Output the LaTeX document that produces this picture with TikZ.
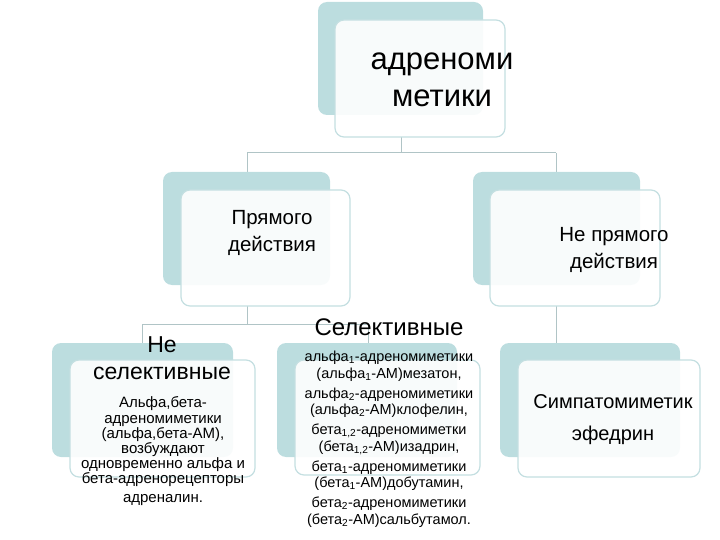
\documentclass[tikz,border=0pt]{standalone}
\usepackage{fontspec}
\setmainfont{Liberation Sans}
\begin{document}
\begin{tikzpicture}[x=1pt,y=-1pt,
 back/.style={fill=backc,draw=none,rounded corners=9pt},
 front/.style={fill=white,fill opacity=0.9,draw=linec,line width=1.2pt,rounded corners=9pt},
 conn/.style={draw=connc,line width=1pt},
 txt/.style={align=center,inner sep=0pt}]
\definecolor{backc}{HTML}{BCDDDF}
\definecolor{linec}{HTML}{C4DFE1}
\definecolor{connc}{HTML}{B0C4C6}
\useasboundingbox (0,0) rectangle (720,540);
% connectors
\coordinate (j1) at (401,153);
\coordinate (j2) at (247,324);
\draw[conn] (401,137) -- (j1) (247,153) -- (556,153) (247,153) -- (247,172) (556,153) -- (556,172);
\draw[conn] (247,306) -- (j2) (142,324) -- (368,324) (142,324) -- (142,343) (368,324) -- (368,343);
\draw[conn] (556,306) -- (556,343);
% top
\fill[back] (318,2) rectangle (483,115);
\draw[front] (335,20) rectangle (505,137);
\node[txt,font=\fontsize{31}{37}\selectfont] (top) at (442,80) {адреноми\\метики};
% mid
\fill[back] (163,172) rectangle (330,285);
\draw[front] (181,190) rectangle (350,306);
\node[txt,font=\fontsize{20.5}{27}\selectfont] (pr) at (272,233) {Прямого\\действия};
\fill[back] (473,172) rectangle (640,285);
\draw[front] (490,190) rectangle (660,306);
\node[txt,font=\fontsize{20.5}{27}\selectfont] (np) at (614,250) {Не прямого\\действия};
% bottom
\fill[back] (52,343) rectangle (233,457);
\draw[front] (70,360) rectangle (255,477);
\node[txt,font=\fontsize{23}{27}\selectfont] (ns) at (162,358) {Не\\селективные};
\node[txt,font=\fontsize{15}{15.2}\selectfont] (nst) at (163,442) {Альфа,бета-\\адреномиметики\\(альфа,бета-АМ),\\возбуждают\\одновременно альфа и\\бета-адренорецепторы};
\node[txt,font=\fontsize{15}{15.2}\selectfont] (adr) at (163,500) {адреналин.};
\fill[back] (277,343) rectangle (457,457);
\draw[front] (295,360) rectangle (480,475);
\node[txt,font=\fontsize{24}{28}\selectfont] (sel) at (389,327) {Селективные};
\node[txt,font=\fontsize{14.5}{16.5}\selectfont] (selt) at (389,439) {альфа\textsubscript{1}-адреномиметики\\(альфа\textsubscript{1}-АМ)мезатон,\\[3.5pt]альфа\textsubscript{2}-адреномиметики\\(альфа\textsubscript{2}-АМ)клофелин,\\[3.5pt]бета\textsubscript{1,2}-адреномиметки\\(бета\textsubscript{1,2}-АМ)изадрин,\\[3.5pt]бета\textsubscript{1}-адреномиметики\\(бета\textsubscript{1}-АМ)добутамин,\\[3.5pt]бета\textsubscript{2}-адреномиметики\\(бета\textsubscript{2}-АМ)сальбутамол.};
\fill[back] (500,343) rectangle (680,457);
\draw[front] (518,360) rectangle (700,477);
\node[txt,font=\fontsize{20}{32}\selectfont] (sym) at (613,420) {Симпатомиметик\\эфедрин};
\end{tikzpicture}
\end{document}
